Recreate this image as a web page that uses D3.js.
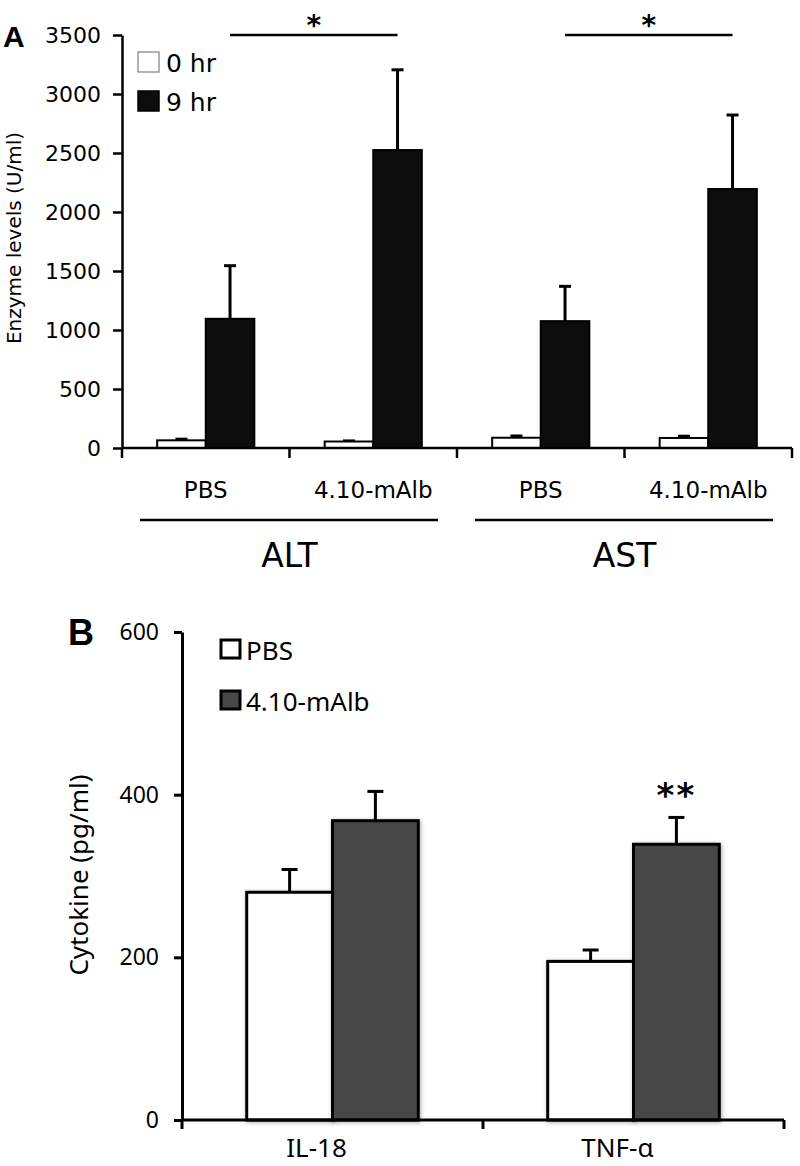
<!DOCTYPE html>
<html>
<head>
<meta charset="utf-8">
<script src="https://cdn.jsdelivr.net/npm/d3@7/dist/d3.min.js"></script>
<style>
  html, body { margin: 0; padding: 0; background: #fff; }
  svg { display: block; }
</style>
</head>
<body>
<svg id="chart" width="800" height="1166"></svg>
<script>
// ---------------- Panel A data ----------------
const panelAIds = ["ALT-PBS", "ALT-mAlb", "AST-PBS", "AST-mAlb"];
const panelATreatments = ["PBS", "4.10-mAlb", "PBS", "4.10-mAlb"];
const panelAGroups = ["ALT", "AST"];
const panelASeries = ["0 hr", "9 hr"];
const panelA0hr = [65, 55, 87, 85];
const panelA0hrErr = [10, 5, 15, 15];
const panelA9hr = [1095, 2525, 1075, 2195];
const panelA9hrErr = [450, 680, 295, 627];
const panelATicks = [0, 500, 1000, 1500, 2000, 2500, 3000, 3500];
const panelAYLabel = "Enzyme levels (U/ml)";
const panelASig = [["ALT-PBS", "ALT-mAlb", "*"], ["AST-PBS", "AST-mAlb", "*"]];

// ---------------- Panel B data ----------------
const panelBCategories = ["IL-18", "TNF-\u03B1"];
const panelBSeries = ["PBS", "4.10-mAlb"];
const panelBPBS = [280, 195];
const panelBPBSErr = [28, 14];
const panelBmAlb = [368, 339];
const panelBmAlbErr = [36, 33];
const panelBTicks = [0, 200, 400, 600];
const panelBYLabel = "Cytokine (pg/ml)";
const panelBSig = ["", "**"];

const svg = d3.select("#chart");

// ============ PANEL A ============
(function () {
  const font = "DejaVu Sans, Verdana, sans-serif";
  const left = 122, right = 792, top = 35, bottom = 448;
  const g = svg.append("g");

  const y = d3.scaleLinear().domain([0, 3500]).range([bottom, top]);
  const x0 = d3.scaleBand().domain(panelAIds).range([left, right]).padding(0);
  const bw = x0.bandwidth();
  const x1 = d3.scaleBand().domain(panelASeries).range([bw * 0.21, bw * 0.79]).padding(0);

  const rows = panelAIds.map((id, i) => ({
    id, vals: [
      { s: "0 hr", v: panelA0hr[i], e: panelA0hrErr[i] },
      { s: "9 hr", v: panelA9hr[i], e: panelA9hrErr[i] }
    ]
  }));

  const eb = g.append("g");
  rows.forEach(r => {
    r.vals.forEach(d => {
      const cx = x0(r.id) + x1(d.s) + x1.bandwidth() / 2;
      eb.append("line").attr("x1", cx).attr("x2", cx)
        .attr("y1", y(d.v)).attr("y2", y(d.v + d.e))
        .attr("stroke", "#000").attr("stroke-width", 3);
      eb.append("line").attr("x1", cx - 6).attr("x2", cx + 6)
        .attr("y1", y(d.v + d.e)).attr("y2", y(d.v + d.e))
        .attr("stroke", "#000").attr("stroke-width", 3);
    });
  });

  rows.forEach(r => {
    g.append("g").selectAll("rect").data(r.vals).join("rect")
      .attr("x", d => x0(r.id) + x1(d.s))
      .attr("y", d => y(d.v))
      .attr("width", x1.bandwidth())
      .attr("height", d => y(0) - y(d.v))
      .attr("fill", d => d.s === "0 hr" ? "#fff" : "#0d0d0d")
      .attr("stroke", "#000").attr("stroke-width", 2);
  });

  const ya = g.append("g").attr("transform", `translate(${left},0)`)
    .call(d3.axisLeft(y).tickValues(panelATicks).tickFormat(d3.format("d"))
      .tickSize(9).tickPadding(12).tickSizeOuter(0));
  ya.select(".domain").attr("stroke-width", 2.5);
  ya.selectAll(".tick line").attr("stroke-width", 2.5);
  ya.selectAll(".tick text").attr("font-family", font).attr("font-size", 22).attr("fill", "#000");

  const boundaries = panelAIds.map(id => x0(id)).concat([right]);
  g.append("line").attr("x1", left).attr("x2", right).attr("y1", bottom).attr("y2", bottom)
    .attr("stroke", "#000").attr("stroke-width", 2.5);
  g.selectAll(".xtick").data(boundaries).join("line")
    .attr("x1", d => d).attr("x2", d => d).attr("y1", bottom).attr("y2", bottom + 10)
    .attr("stroke", "#000").attr("stroke-width", 2.5);

  g.selectAll(".tl").data(panelAIds).join("text")
    .attr("x", d => x0(d) + bw / 2).attr("y", 498)
    .attr("text-anchor", "middle").attr("font-family", font).attr("font-size", 23)
    .text((d, i) => panelATreatments[i]);

  panelAGroups.forEach((grp, gi) => {
    const a = x0(panelAIds[gi * 2]), b = x0(panelAIds[gi * 2 + 1]) + bw;
    g.append("line").attr("x1", a + 18).attr("x2", b - 19).attr("y1", 520).attr("y2", 520)
      .attr("stroke", "#000").attr("stroke-width", 2.5);
    g.append("text").attr("x", (a + b) / 2).attr("y", 567).attr("text-anchor", "middle")
      .attr("font-family", font).attr("font-size", 33).text(grp);
  });

  panelASig.forEach(([a, b, s]) => {
    const xa = x0(a) + x1("9 hr") + x1.bandwidth() / 2;
    const xb = x0(b) + x1("9 hr") + x1.bandwidth() / 2;
    g.append("line").attr("x1", xa).attr("x2", xb).attr("y1", y(3500)).attr("y2", y(3500))
      .attr("stroke", "#000").attr("stroke-width", 2.5);
    g.append("text").attr("x", (xa + xb) / 2).attr("y", y(3500)).attr("text-anchor", "middle")
      .attr("font-family", font).attr("font-weight", "bold").attr("font-size", 28).text(s);
  });

  const lg = g.append("g");
  panelASeries.forEach((s, i) => {
    lg.append("rect").attr("x", 138).attr("y", 52 + i * 39).attr("width", 21).attr("height", 20)
      .attr("fill", i === 0 ? "#fff" : "#0d0d0d").attr("stroke", i === 0 ? "#999" : "#000").attr("stroke-width", 1.5);
    lg.append("text").attr("x", 166).attr("y", 72 + i * 39)
      .attr("font-family", font).attr("font-size", 25).text(s);
  });

  g.append("text").attr("transform", `translate(21,238) rotate(-90)`)
    .attr("text-anchor", "middle").attr("font-family", font).attr("font-size", 20).text(panelAYLabel);

  g.append("text").attr("x", 3).attr("y", 47).attr("font-family", "Liberation Sans, Arial, sans-serif")
    .attr("font-weight", "bold").attr("font-size", 30).text("A");
})();

// ============ PANEL B ============
(function () {
  const font = "Noto Sans, Open Sans, sans-serif";
  const left = 182, right = 784, top = 632, bottom = 1120;
  const g = svg.append("g");

  const defs = svg.append("defs");
  const f = defs.append("filter").attr("id", "shadow").attr("x", "-20%").attr("y", "-20%")
    .attr("width", "140%").attr("height", "140%");
  f.append("feDropShadow").attr("dx", 1).attr("dy", 1).attr("stdDeviation", 2)
    .attr("flood-color", "#000").attr("flood-opacity", 0.35);

  const y = d3.scaleLinear().domain([0, 600]).range([bottom, top]);
  const x0 = d3.scaleBand().domain(panelBCategories).range([left, right]).padding(0);
  const bw = x0.bandwidth();
  const x1 = d3.scaleBand().domain(panelBSeries).range([bw * 0.215, bw * 0.785]).padding(0);
  const fills = ["#ffffff", "#474747"];

  const rows = panelBCategories.map((c, i) => ({
    c, vals: [
      { s: panelBSeries[0], v: panelBPBS[i], e: panelBPBSErr[i] },
      { s: panelBSeries[1], v: panelBmAlb[i], e: panelBmAlbErr[i] }
    ]
  }));

  rows.forEach(r => {
    r.vals.forEach(d => {
      const cx = x0(r.c) + x1(d.s) + x1.bandwidth() / 2;
      g.append("line").attr("x1", cx).attr("x2", cx).attr("y1", y(d.v)).attr("y2", y(d.v + d.e))
        .attr("stroke", "#000").attr("stroke-width", 3);
      g.append("line").attr("x1", cx - 8).attr("x2", cx + 8).attr("y1", y(d.v + d.e)).attr("y2", y(d.v + d.e))
        .attr("stroke", "#000").attr("stroke-width", 3);
    });
  });

  rows.forEach(r => {
    g.append("g").selectAll("rect").data(r.vals).join("rect")
      .attr("x", d => x0(r.c) + x1(d.s))
      .attr("y", d => y(d.v))
      .attr("width", x1.bandwidth())
      .attr("height", d => y(0) - y(d.v))
      .attr("fill", (d, i) => fills[i])
      .attr("stroke", "#000").attr("stroke-width", 3)
      .attr("filter", "url(#shadow)");
  });

  rows.forEach((r, i) => {
    if (!panelBSig[i]) return;
    const d = r.vals[1];
    const cx = x0(r.c) + x1(d.s) + x1.bandwidth() / 2;
    g.append("text").attr("x", cx).attr("y", y(d.v + d.e) - 10).attr("text-anchor", "middle")
      .attr("font-family", "DejaVu Sans, sans-serif").attr("font-weight", "bold").attr("font-size", 34)
      .attr("letter-spacing", 2).text(panelBSig[i]);
  });

  const ya = g.append("g").attr("transform", `translate(${left},0)`)
    .call(d3.axisLeft(y).tickValues(panelBTicks).tickSize(8).tickPadding(15).tickSizeOuter(0));
  ya.select(".domain").attr("stroke-width", 3);
  ya.selectAll(".tick line").attr("stroke-width", 3);
  ya.selectAll(".tick text").attr("font-family", font).attr("font-size", 23).attr("fill", "#000");

  g.append("line").attr("x1", left).attr("x2", right).attr("y1", bottom).attr("y2", bottom)
    .attr("stroke", "#000").attr("stroke-width", 3);
  const bnd = panelBCategories.map(c => x0(c)).concat([right]);
  g.selectAll(".xt").data(bnd).join("line")
    .attr("x1", d => d).attr("x2", d => d).attr("y1", bottom).attr("y2", bottom + 9)
    .attr("stroke", "#000").attr("stroke-width", 3);
  g.selectAll(".xl").data(panelBCategories).join("text")
    .attr("x", d => x0(d) + bw / 2 - 16).attr("y", 1157).attr("text-anchor", "middle")
    .attr("font-family", font).attr("font-size", 26).text(d => d);

  panelBSeries.forEach((s, i) => {
    g.append("rect").attr("x", 221).attr("y", 640 + i * 51).attr("width", 19).attr("height", 18)
      .attr("fill", fills[i]).attr("stroke", "#000").attr("stroke-width", 3);
    g.append("text").attr("x", 246).attr("y", 660 + i * 51)
      .attr("font-family", font).attr("font-size", 26).text(s);
  });

  g.append("text").attr("transform", `translate(88,875) rotate(-90)`)
    .attr("text-anchor", "middle").attr("font-family", font).attr("font-size", 26).text(panelBYLabel);

  g.append("text").attr("x", 68).attr("y", 645).attr("font-family", "Liberation Sans, Arial, sans-serif")
    .attr("font-weight", "bold").attr("font-size", 36).text("B");
})();
</script>
</body>
</html>
